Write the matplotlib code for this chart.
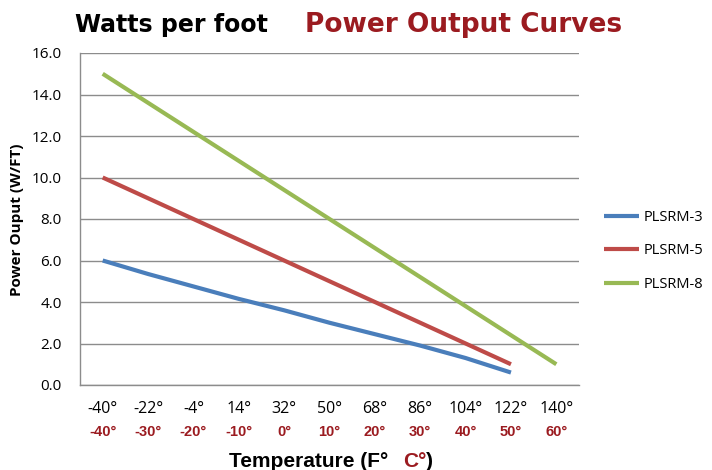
import matplotlib
matplotlib.use("Agg")
import matplotlib.pyplot as plt
import matplotlib.transforms as mtransforms

temps_f = ["-40°", "-22°", "-4°", "14°", "32°", "50°", "68°", "86°", "104°", "122°", "140°"]
temps_c = ["-40°", "-30°", "-20°", "-10°", "0°", "10°", "20°", "30°", "40°", "50°", "60°"]
plsrm3 = [6.0, 5.35, 4.75, 4.15, 3.6, 3.0, 2.45, 1.9, 1.3, 0.6]
plsrm5 = [10.0, 9.0, 8.0, 7.0, 6.0, 5.0, 4.0, 3.0, 2.0, 1.0]
plsrm8 = [15.0, 13.6, 12.2, 10.8, 9.4, 8.0, 6.6, 5.2, 3.8, 2.4, 1.0]
series_names = ["PLSRM-3", "PLSRM-5", "PLSRM-8"]
y_ticks = [0, 2, 4, 6, 8, 10, 12, 14, 16]

colors = ["#4A7EBB", "#BE4B48", "#98B954"]
darkred = "#9B1B20"
grid_col = "#8C8C8C"
W, H = 712, 470

def fx(px):
    return px / W

def fy(py):
    return 1 - py / H

fig = plt.figure(figsize=(7.12, 4.70), dpi=100)
ax = fig.add_axes([fx(80), fy(385), (579 - 80) / W, (385 - 53) / H])

for vals, name, c in zip([plsrm3, plsrm5, plsrm8], series_names, colors):
    ax.plot(range(len(vals)), vals, color=c, lw=3.0, label=name, solid_capstyle="butt")

ax.set_xlim(-0.5, len(temps_f) - 0.5)
ax.set_ylim(0, 16)
ax.set_yticks(y_ticks)
ax.set_yticklabels([f"{v:.1f}" for v in y_ticks], fontsize=11, family="Open Sans")
ax.yaxis.grid(True, color=grid_col, lw=1.0)
ax.set_axisbelow(True)
for s in ["top", "right"]:
    ax.spines[s].set_visible(False)
ax.spines["left"].set_color(grid_col)
ax.spines["bottom"].set_color(grid_col)
ax.spines["bottom"].set_linewidth(1.0)
ax.spines["left"].set_linewidth(1.0)
ax.tick_params(axis="y", length=0, pad=13)
ax.tick_params(axis="x", length=0)
ax.set_xticks(range(len(temps_f)))
ax.set_xticklabels([])

trans = mtransforms.blended_transform_factory(ax.transData, fig.transFigure)
for i, f in enumerate(temps_f):
    ax.text(i, fy(409), f, transform=trans, ha="center", va="center",
            fontsize=11.5, family="Open Sans", color="black")
for i, c in enumerate(temps_c):
    ax.text(i, fy(432), c, transform=trans, ha="center", va="center",
            fontsize=10.5, fontweight="bold", color=darkred, family="Liberation Sans")

# x axis label with two colours
fig.canvas.draw()
r = fig.canvas.get_renderer()
xl_kw = dict(va="baseline", fontsize=15, fontweight="bold", family="Liberation Sans")
t1 = fig.text(fx(229), fy(467), "Temperature (F°", ha="left", color="black", **xl_kw)
t2 = fig.text(fx(403), fy(467), "C°", ha="left", color=darkred, **xl_kw)
bb2 = t2.get_window_extent(r)
fig.text(bb2.x1 / W, fy(467), ")", ha="left", color="black", **xl_kw)

fig.text(fx(17), fy(220), "Power Ouput (W/FT)", rotation=90, ha="center", va="center",
         fontsize=11, fontweight="bold", family="Open Sans")

fig.text(fx(268), fy(32), "Watts per foot", ha="right", va="baseline",
         fontsize=17, fontweight="bold", family="DejaVu Sans", color="black")
fig.text(fx(305), fy(32), "Power Output Curves", ha="left", va="baseline",
         fontsize=19, fontweight="bold", family="DejaVu Sans", color=darkred)

leg = ax.legend(loc="center left", bbox_to_anchor=(fx(604), fy(251)),
                bbox_transform=fig.transFigure, frameon=False,
                prop={"family": "Open Sans", "size": 10.5},
                handlelength=2.4, handletextpad=0.3, labelspacing=1.25,
                borderpad=0, borderaxespad=0)

fig.savefig("out.png", dpi=100)
